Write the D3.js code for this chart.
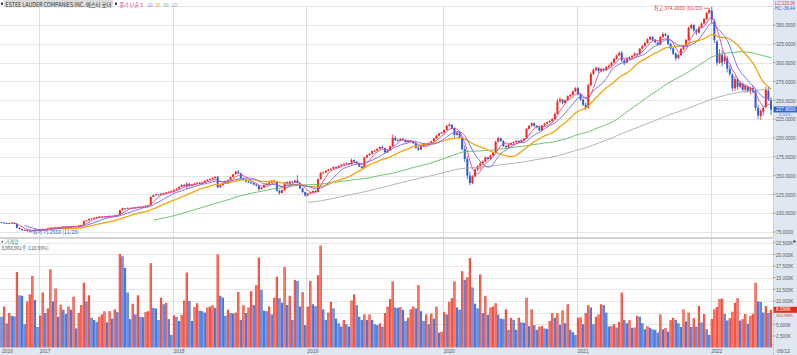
<!DOCTYPE html>
<html><head><meta charset="utf-8">
<script src="https://cdn.jsdelivr.net/npm/d3@7"></script>
<style>
body{margin:0;background:#fff;}
svg{display:block;font-family:"Noto Sans CJK KR","Noto Sans",sans-serif;}
.ax{font-family:"Liberation Sans",Arial,sans-serif;}
</style></head><body>
<svg id="c" width="797" height="355"></svg>
<script>
// ---- DATA (weekly, 2016-09-19 .. 2022-06-13) ----
const opens=[88.0,87.5,87.0,86.2,86.8,87.3,86.0,80.4,79.0,77.4,77.8,76.5,77.2,76.8,77.5,
76.9,78.5,79.0,78.8,80.0,80.5,80.2,81.5,81.2,81.8,82.0,81.6,82.3,82.0,82.8,82.4,83.5,
84.4,89.6,90.5,92.5,93.1,94.0,94.8,95.5,95.0,95.8,95.2,96.5,96.0,97.0,
97.6,104.2,106.5,106.0,107.0,106.5,107.5,107.0,108.5,108.0,109.0,110.0,
110.6,121.5,124.0,125.0,124.5,126.0,126.5,127.5,128.5,
129.5,131.0,132.5,135.0,137.5,136.0,139.0,136.5,138.0,139.5,140.5,139.5,141.0,143.0,144.5,145.5,147.0,
148.5,134.5,137.0,140.0,142.5,144.0,148.0,151.5,155.0,153.0,146.5,144.0,142.0,141.0,140.0,138.0,136.5,
132.0,134.0,137.5,139.0,140.5,143.0,141.5,130.0,127.0,130.5,141.0,139.0,142.0,141.0,143.5,140.0,133.0,128.0,
123.5,126.0,127.5,129.5,128.0,145.0,153.5,154.0,156.5,158.0,159.0,161.5,160.5,163.0,164.5,165.5,166.5,165.0,170.5,168.5,166.0,162.0,
160.0,174.0,177.0,179.0,182.5,183.0,185.5,188.0,186.5,181.0,183.5,189.0,200.0,197.0,196.5,198.5,197.0,194.5,196.0,195.0,193.0,187.0,184.5,189.0,192.0,190.5,193.5,195.5,199.5,203.0,206.0,
207.0,210.5,216.0,217.5,213.0,204.0,207.0,200.5,185.0,172.0,150.0,140.0,149.0,158.0,162.5,166.0,168.5,174.0,172.0,176.5,180.5,195.0,199.5,196.0,189.0,187.5,191.0,193.0,194.5,196.0,194.5,
197.0,199.0,212.0,216.0,219.5,216.0,214.0,210.0,216.5,219.0,221.0,222.5,225.0,232.0,248.5,251.0,246.5,250.0,255.5,257.0,262.0,
266.0,258.0,251.0,244.0,240.0,270.0,285.0,290.5,293.0,289.0,291.5,290.0,294.0,296.0,300.0,305.0,309.5,313.0,303.0,300.0,305.0,307.0,309.0,312.0,311.0,318.5,322.0,326.0,331.0,334.0,330.5,327.0,324.0,334.0,338.0,336.0,325.0,319.0,312.0,306.0,310.0,318.0,322.0,330.0,346.0,350.0,343.0,340.0,347.0,352.0,358.0,366.0,
369,355,328,300,310,302,306,292,284,266,278,268,272,264,268,262,266,262,240,229,235,241,263,250];

const highs=[88.8,88.2,87.5,87.3,87.8,87.6,86.4,81.0,79.4,78.5,78.0,77.8,77.6,77.9,77.7,
78.9,79.6,79.4,80.4,81.0,80.9,81.9,81.8,82.2,82.5,82.3,82.7,82.6,83.2,83.0,83.9,84.6,
90.5,91.0,92.9,93.6,94.5,95.3,96.0,95.9,96.3,96.2,96.9,96.8,97.5,98.0,
104.8,107.3,107.0,107.6,107.4,108.0,107.9,109.0,108.9,109.5,110.6,111.2,
122.5,124.8,125.8,125.5,126.6,127.2,128.2,129.0,130.0,
131.5,133.2,135.6,138.5,139.0,141.5,140.0,138.6,140.2,141.2,141.0,141.6,143.6,145.2,146.2,147.8,149.5,
149.0,137.8,140.6,143.2,144.8,148.6,152.2,156.5,157.5,153.8,147.4,145.0,143.5,142.2,141.0,139.0,137.5,
134.8,138.2,139.6,141.2,143.8,144.5,142.2,131.5,131.2,142.0,142.5,142.8,143.0,144.2,150.5,140.8,134.0,128.6,
127.0,128.4,130.2,130.4,146.0,154.5,155.2,157.2,158.8,159.8,162.2,162.0,163.6,165.2,166.2,167.4,167.0,172.5,171.5,169.2,166.8,163.0,
174.8,177.8,179.8,183.2,184.2,186.2,188.8,190.0,187.2,184.2,189.8,204.5,203.0,199.0,199.5,200.2,198.0,197.0,197.2,196.0,194.0,189.5,189.8,192.8,193.0,194.2,196.2,200.2,203.8,206.8,207.8,
211.2,217.2,220.0,218.2,214.0,208.2,208.0,201.5,190.0,176.0,155.0,150.5,159.5,164.0,168.0,170.5,175.5,175.0,177.8,181.5,196.2,201.5,200.5,197.0,191.0,191.8,194.2,195.5,197.0,197.0,198.0,
200.0,213.0,217.0,220.8,220.5,217.0,215.2,217.5,220.0,222.0,223.5,226.5,233.5,252.0,254.5,252.0,251.2,256.5,258.5,263.0,267.5,
268.0,259.5,252.5,247.0,272.0,287.0,292.5,295.0,294.0,293.5,293.0,295.5,297.5,301.5,306.5,311.0,315.0,315.5,305.0,306.5,308.5,310.5,313.5,313.0,319.5,323.5,327.5,332.5,335.5,335.0,331.5,328.0,335.5,340.5,339.5,337.0,326.5,320.0,313.5,311.5,319.5,323.5,331.5,348.0,352.0,351.0,345.0,348.5,353.5,359.5,367.5,372.0,
374.2,358,330,318,316,312,309,297,286,282,280,276,274,271,270,268,270,264,244,238,242,268,269,254];

const lows=[86.8,86.5,85.8,85.9,86.3,85.6,79.8,77.8,76.9,76.8,75.255,76.0,76.2,76.5,76.5,
76.6,78.0,78.2,78.5,79.6,79.7,80.0,80.8,81.0,81.4,81.2,81.4,81.7,81.8,82.0,82.2,83.2,
84.0,89.0,90.2,92.0,92.6,93.5,94.3,94.4,94.7,94.8,95.0,95.6,95.8,96.6,
97.2,103.5,105.2,105.6,106.0,106.2,106.5,106.8,107.4,107.7,108.6,109.5,
110.2,121.0,123.5,123.8,124.2,125.5,126.0,127.0,128.0,
129.0,130.5,132.0,134.5,135.2,132.0,134.5,135.8,137.4,138.8,138.6,139.0,140.4,142.4,143.8,145.0,146.2,
133.0,133.8,136.4,139.5,141.8,143.5,147.5,151.0,152.0,145.5,143.2,141.0,140.2,139.0,137.2,135.5,129.5,
131.2,133.5,136.8,138.2,140.0,140.6,128.5,124.5,125.8,130.0,138.0,138.5,139.8,140.4,139.5,132.0,126.5,121.8,
122.5,125.2,126.8,127.2,127.5,144.5,152.0,153.5,155.8,157.0,158.5,159.8,160.0,162.4,163.8,164.8,164.2,164.5,167.5,165.2,161.2,158.8,
159.5,173.2,176.2,178.4,181.6,182.4,184.8,185.6,179.8,179.6,182.8,188.2,195.8,195.2,195.6,196.0,193.4,193.6,194.0,191.8,185.8,182.8,183.8,188.2,189.6,190.0,192.8,195.0,198.8,202.2,205.0,
206.2,210.0,214.8,212.0,200.5,203.2,199.6,183.5,168.0,145.0,137.0,138.5,147.5,156.5,158.0,164.5,167.8,170.5,171.2,175.8,180.0,194.2,194.8,188.0,186.2,186.8,190.0,192.2,193.6,193.2,193.8,
196.0,198.5,211.2,215.2,214.8,212.8,208.8,209.2,215.8,218.2,219.8,220.0,224.2,231.0,247.0,244.8,245.5,249.2,254.2,256.0,260.8,
256.5,249.5,242.0,237.0,239.0,268.5,283.5,288.8,286.5,287.0,288.0,289.0,292.8,295.0,299.0,304.0,308.5,300.5,296.5,299.0,303.5,305.8,308.0,309.0,310.2,317.5,321.0,325.0,330.0,329.0,325.5,322.5,323.0,332.8,334.5,323.0,317.0,310.0,302.5,304.5,309.0,316.5,320.5,329.0,344.5,341.0,336.5,338.5,345.5,350.5,356.5,364.0,
352,326,296,298,295,298,287,282,262,262,264,266,262,260,260,258,259,236,225,224,230,240,249,230];

const closes=[87.5,87.0,86.2,86.8,87.2,86.0,80.5,79.0,77.5,77.8,76.5,77.2,76.8,77.5,76.8,
78.5,79.0,78.8,80.0,80.5,80.2,81.5,81.2,81.8,82.0,81.6,82.3,82.0,82.8,82.4,83.5,84.2,
89.5,90.5,92.5,93.0,94.0,94.8,95.5,95.0,95.8,95.2,96.5,96.0,97.0,97.5,
104.0,106.5,106.0,107.0,106.5,107.5,107.0,108.5,108.0,109.0,110.0,110.5,
121.5,124.0,125.0,124.5,126.0,126.5,127.5,128.5,129.5,
131.0,132.5,135.0,137.5,136.0,139.0,136.5,138.0,139.5,140.5,139.5,141.0,143.0,144.5,145.5,147.0,148.0,
134.5,137.0,140.0,142.5,144.0,148.0,151.5,155.0,153.0,146.5,144.0,142.0,141.0,140.0,138.0,136.5,132.0,
134.0,137.5,139.0,140.5,143.0,141.5,130.0,127.0,130.5,141.0,139.0,142.0,141.0,143.5,140.0,133.0,128.0,123.5,
126.0,127.5,129.5,128.0,145.0,153.5,154.0,156.5,158.0,159.0,161.5,160.5,163.0,164.5,165.5,166.5,165.0,170.5,168.5,166.0,162.0,160.0,
174.0,177.0,179.0,182.5,183.0,185.5,188.0,186.5,181.0,183.5,189.0,200.0,197.0,196.5,198.5,197.0,194.5,196.0,195.0,193.0,187.0,184.5,189.0,192.0,190.5,193.5,195.5,199.5,203.0,206.0,207.0,
210.5,216.0,217.5,213.0,204.0,207.0,200.5,185.0,172.0,150.0,140.0,149.0,158.0,162.5,166.0,168.5,174.0,172.0,176.5,180.5,195.0,199.5,196.0,189.0,187.5,191.0,193.0,194.5,196.0,194.5,197.0,
199.0,212.0,216.0,219.5,216.0,214.0,210.0,216.5,219.0,221.0,222.5,225.0,232.0,248.5,251.0,246.5,250.0,255.5,257.0,262.0,266.0,
258.0,251.0,244.0,240.0,270.0,285.0,290.5,293.0,289.0,291.5,290.0,294.0,296.0,300.0,305.0,309.5,313.0,303.0,300.0,305.0,307.0,309.0,312.0,311.0,318.5,322.0,326.0,331.0,334.0,330.5,327.0,324.0,334.0,338.0,336.0,325.0,319.0,312.0,306.0,310.0,318.0,322.0,330.0,346.0,350.0,343.0,340.0,347.0,352.0,358.0,366.0,370.0,
357,330,300,312,300,308,292,285,266,278,268,273,264,269,262,266,261,240,230,236,240,264,251.7,237.8];

// weekly volume, thousands of shares
const volumes=[6600,8800,5200,7400,6800,6700,16200,11200,11100,5000,9900,11400,15400,10200,4400,
6900,11800,7400,8400,16800,9900,12700,6600,9200,8100,7200,8800,8100,10900,4100,7400,9100,
13900,9900,11200,6400,5900,5500,6600,7100,7800,5400,7800,6200,8200,7600,
20100,19600,17100,11800,6100,9400,7100,11200,6600,6500,7600,7800,
18100,8500,8400,5900,10700,9300,9600,6100,2700,
6900,6600,5700,7000,10100,16100,10000,5700,8700,9500,7900,7800,7500,8600,8800,9100,8500,
20000,11100,10700,6800,8100,7400,7300,7500,11900,5900,9100,7400,8600,12100,9100,13400,19300,
12400,7900,7800,8800,7100,10700,15200,10600,9600,17300,9100,11100,5900,14500,14300,8800,11900,4800,
8800,14300,9300,8900,15500,21900,8200,5900,7500,9800,8400,6200,5200,4500,5900,5000,4500,10100,11400,9100,6600,5900,
7100,5900,7100,5900,5000,4800,5200,4500,7400,8800,10400,14200,8600,8500,8700,8100,5700,6400,8200,8800,8400,13400,7800,5700,7100,5000,7300,6200,8800,3200,3400,
7600,7100,9800,10600,14200,8600,8100,16400,14500,15100,19200,12900,9400,8400,15700,7400,11100,7000,8600,8800,9500,7100,6200,6100,8200,3800,6400,5900,3800,6400,5400,
5300,10700,4600,8200,4800,3800,4500,4600,4100,4000,5700,7400,6400,7400,4900,8000,5200,9300,3800,3300,2700,
6400,6500,5000,7400,9100,8600,5000,6600,7100,9300,9100,7500,4500,4600,5000,4300,5500,11800,5900,5200,5900,4200,4300,6800,6600,5200,3900,4600,4200,3900,3800,3200,7100,3900,4200,3400,5900,6400,5900,5200,4400,8200,5600,7500,4400,6300,4500,8900,5400,7200,3900,2700,
6100,8200,8700,10400,10500,7200,5800,6300,7700,9600,10600,5800,6100,7200,5100,6800,7200,13900,9900,9800,7500,8900,7400,8097];

const yearLabels=["2016","2017","2018","2019","2020","2021","2022"];
const yearIdx=[0,15,67,119,172,224,276];
const lastDateLabel="06/13";
const priceTicks=[75,100,125,150,175,200,225,250,275,300,325,350];
const volTicks=[2500,5000,7500,10000,12500,15000,17500,20000,22500];
const maPeriods=[5,10,20,60,120];
const maColors=["#e2449c","#6b6be8","#f2a50c","#5dba62","#ababab"];
const titleText="ESTEE LAUDER COMPANIES INC. 에스티 로더";
const lastPrice=237.8, lastChange="-5.51%";
const lastVolume=8097, volHeader="8,096,961주 (110.99%)", volRatio="110.99%";
const highLabel="최고 374.2000 (01/03)", lowLabel="최저 75.2550 (11/28)";
const highIdx=276, lowIdx=10;

// ---- DRAWING ----
const W=797,H=355,PR=773;
const svg=d3.select("#c");
const n=Math.min(opens.length,highs.length,lows.length,closes.length,volumes.length);
const x=d3.scaleLinear().domain([0,299]).range([1.5,771]);
const yP=d3.scaleLinear().domain([75,375]).range([232,6.2]);
const yV=d3.scaleLinear().domain([0,22500]).range([347.5,242.7]);
const RED="#ee2b1f", BLUE="#2c5fd6";

const defs=svg.append("defs");
function grad(id,edge,mid){
  const g=defs.append("linearGradient").attr("id",id).attr("x1","0").attr("x2","1").attr("y1","0").attr("y2","0");
  g.append("stop").attr("offset","0%").attr("stop-color",edge);
  g.append("stop").attr("offset","50%").attr("stop-color",mid);
  g.append("stop").attr("offset","100%").attr("stop-color",edge);
}
grad("gr","#e4281a","#ff7a68");
grad("gb","#2352c4","#6a9af2");

// axis bands
svg.append("rect").attr("x",PR).attr("y",0).attr("width",W-PR).attr("height",H).attr("fill","#dfe7f2");
svg.append("rect").attr("x",0).attr("y",347.5).attr("width",W).attr("height",H-347.5).attr("fill","#dfe7f2");
svg.append("line").attr("x1",PR+0.5).attr("x2",PR+0.5).attr("y1",0).attr("y2",H)
  .attr("stroke","#b4c2d6").attr("stroke-dasharray","1,1");

// gridlines
const grid=svg.append("g").attr("stroke","#e6e6e6").attr("stroke-width",1);
priceTicks.concat([375]).forEach(t=>{
  const yy=Math.round(yP(t))+0.5;
  grid.append("line").attr("x1",0).attr("x2",PR).attr("y1",yy).attr("y2",yy);
});
volTicks.forEach(t=>{
  const yy=Math.round(yV(t))+0.5;
  grid.append("line").attr("x1",0).attr("x2",PR).attr("y1",yy).attr("y2",yy);
});
yearIdx.forEach((k,i)=>{
  if(i===0) return;
  const xx=Math.round(x(k)-1.3)+0.5;
  grid.append("line").attr("x1",xx).attr("x2",xx).attr("y1",6).attr("y2",347.5).attr("stroke","#dedede");
});
// panel separator
svg.append("line").attr("x1",0).attr("x2",PR).attr("y1",238).attr("y2",238).attr("stroke","#c4c4c4").attr("stroke-width",1.4);

// candles
const cg=svg.append("g");
for(let i=0;i<n;i++){
  const up=closes[i]>=opens[i];
  const col=up?RED:BLUE;
  const cx=x(i);
  cg.append("line").attr("x1",cx).attr("x2",cx).attr("y1",yP(highs[i])).attr("y2",yP(lows[i]))
    .attr("stroke",col).attr("stroke-width",0.8);
  const y1=yP(Math.max(opens[i],closes[i])), y2=yP(Math.min(opens[i],closes[i]));
  cg.append("rect").attr("x",cx-1).attr("width",2).attr("y",y1).attr("height",Math.max(0.9,y2-y1)).attr("fill",col);
}

// moving averages
const mg=svg.append("g").attr("fill","none");
maPeriods.map((p,j)=>({p,j})).reverse().forEach(({p,j})=>{
  const pts=[];
  for(let i=p-1;i<n;i++){
    pts.push([i,d3.mean(closes.slice(i-p+1,i+1))]);
  }
  mg.append("path").attr("d",d3.line().x(d=>x(d[0])).y(d=>yP(d[1]))(pts))
    .attr("stroke",maColors[j]).attr("stroke-width",p===20?1.3:0.9);
});

// volume bars
const vg=svg.append("g");
for(let i=0;i<n;i++){
  const up=i>0 && volumes[i]>volumes[i-1];
  vg.append("rect").attr("x",x(i)-1.1).attr("width",2.2)
    .attr("y",yV(volumes[i])).attr("height",yV(0)-yV(volumes[i]))
    .attr("fill",up?"url(#gr)":"url(#gb)");
}

// header
svg.append("rect").attr("x",4).attr("y",0).attr("width",109).attr("height",7.5).attr("fill","#dcdcdc");
svg.append("rect").attr("x",1).attr("y",2.5).attr("width",2).attr("height",2.5).attr("fill","#444");
svg.append("text").attr("x",5.5).attr("y",6.6).attr("font-size",5.6).attr("fill","#333")
  .attr("textLength",106).attr("lengthAdjust","spacingAndGlyphs").text(titleText);
svg.append("rect").attr("x",115).attr("y",2.5).attr("width",2).attr("height",2.5).attr("fill","#444");
const hdr=[["종가 단순 5",119.5,23.5,maColors[0]],["10",147.5,5,maColors[1]],["20",155.5,5,maColors[2]],["60",163.5,5,maColors[3]],["120",171,7,maColors[4]]];
hdr.forEach(h=>svg.append("text").attr("x",h[1]).attr("y",6.6).attr("font-size",5.4).attr("fill",h[3])
  .attr("textLength",h[2]).attr("lengthAdjust","spacingAndGlyphs").text(h[0]));

// top-right LC/HC
svg.append("text").attr("class","ax").attr("x",775).attr("y",4.6).attr("font-size",4.6).attr("fill","#e0403a")
  .attr("textLength",20).attr("lengthAdjust","spacingAndGlyphs").text("LC:215.06");
svg.append("text").attr("class","ax").attr("x",775).attr("y",9.6).attr("font-size",4.6).attr("fill","#2c5fd6")
  .attr("textLength",20).attr("lengthAdjust","spacingAndGlyphs").text("HC:-36.44");

// price axis labels
const axG=svg.append("g").attr("class","ax").attr("font-size",5.2).attr("fill","#5a5a5a");
const fmtP=v=>v.toFixed(4);
priceTicks.forEach(t=>{
  const yy=yP(t);
  axG.append("line").attr("x1",PR).attr("x2",PR+2.5).attr("y1",yy).attr("y2",yy).attr("stroke","#777").attr("stroke-width",0.6);
  const s=fmtP(t);
  axG.append("text").attr("x",776).attr("y",yy+2.3).attr("textLength",s.length*2.45).attr("lengthAdjust","spacingAndGlyphs").text(s);
});
const fmtV=d3.format(",");
const vBoxY=yV(lastVolume);
volTicks.forEach(t=>{
  const yy=yV(t);
  if(Math.abs(yy-vBoxY)<4.5) return;
  axG.append("line").attr("x1",PR).attr("x2",PR+2.5).attr("y1",yy).attr("y2",yy).attr("stroke","#777").attr("stroke-width",0.6);
  const s=fmtV(t)+"K";
  axG.append("text").attr("x",776).attr("y",yy+2.3).attr("textLength",s.length*2.5).attr("lengthAdjust","spacingAndGlyphs").text(s);
});

// current price box
const pY=yP(lastPrice);
svg.append("rect").attr("x",PR+0.5).attr("y",pY-3).attr("width",W-PR).attr("height",6).attr("fill","#2f63d4");
svg.append("text").attr("class","ax").attr("x",776).attr("y",pY+1.7).attr("font-size",5).attr("fill","#fff")
  .attr("textLength",19.6).attr("lengthAdjust","spacingAndGlyphs").text(lastPrice.toFixed(4));
svg.append("text").attr("class","ax").attr("x",778).attr("y",pY+6.4).attr("font-size",3.8).attr("fill","#2f63d4")
  .attr("textLength",13).attr("lengthAdjust","spacingAndGlyphs").text(lastChange);

// current volume box
svg.append("rect").attr("x",PR+0.5).attr("y",vBoxY-3).attr("width",W-PR).attr("height",6).attr("fill","#e8281c");
svg.append("text").attr("class","ax").attr("x",776).attr("y",vBoxY+1.7).attr("font-size",5).attr("fill","#fff")
  .attr("textLength",15).attr("lengthAdjust","spacingAndGlyphs").text(fmtV(Math.round(lastVolume-1))+"K");
svg.append("text").attr("class","ax").attr("x",776).attr("y",vBoxY+7.1).attr("font-size",4.4).attr("fill","#e8281c")
  .attr("textLength",17).attr("lengthAdjust","spacingAndGlyphs").text(volRatio);
svg.append("rect").attr("x",793.5).attr("y",240.5).attr("width",2).attr("height",2).attr("fill","#333");

// volume header
svg.append("rect").attr("x",1.5).attr("y",240.8).attr("width",1.6).attr("height",1.8).attr("fill","#666");
svg.append("text").attr("x",5).attr("y",244).attr("font-size",5.2).attr("fill","#2a9ea0")
  .attr("textLength",13.5).attr("lengthAdjust","spacingAndGlyphs").text("거래량");
svg.append("text").attr("x",1.5).attr("y",249.6).attr("font-size",5.2).attr("fill","#555")
  .attr("textLength",47).attr("lengthAdjust","spacingAndGlyphs").text(volHeader);

// x labels
const xl=svg.append("g").attr("class","ax").attr("font-size",5.4).attr("fill","#5a5a5a");
yearIdx.forEach((k,i)=>{
  const xx=i===0?2:x(k)-0.5;
  xl.append("text").attr("x",xx).attr("y",353.4).attr("textLength",11).attr("lengthAdjust","spacingAndGlyphs").text(yearLabels[i]);
});
xl.append("text").attr("x",777).attr("y",353.4).attr("textLength",13).attr("lengthAdjust","spacingAndGlyphs").text(lastDateLabel);

// high / low annotations
const hx=x(highIdx), hy=yP(highs[highIdx]);
svg.append("line").attr("x1",hx-8).attr("x2",hx-2).attr("y1",hy+1.5).attr("y2",hy+1.5).attr("stroke","#e0403a").attr("stroke-width",0.7);
svg.append("text").attr("x",hx-9).attr("y",hy+3.5).attr("text-anchor","end").attr("font-size",5.4).attr("fill","#e0403a")
  .attr("textLength",49).attr("lengthAdjust","spacingAndGlyphs").text(highLabel);
const lx=x(lowIdx), ly=yP(lows[lowIdx]);
svg.append("line").attr("x1",lx+1.5).attr("x2",lx+5).attr("y1",ly).attr("y2",ly).attr("stroke","#2f63d4").attr("stroke-width",0.7);
svg.append("text").attr("x",lx+5.5).attr("y",ly+2.2).attr("font-size",5.4).attr("fill","#2f63d4")
  .attr("textLength",46).attr("lengthAdjust","spacingAndGlyphs").text(lowLabel);
</script>
</body></html>
